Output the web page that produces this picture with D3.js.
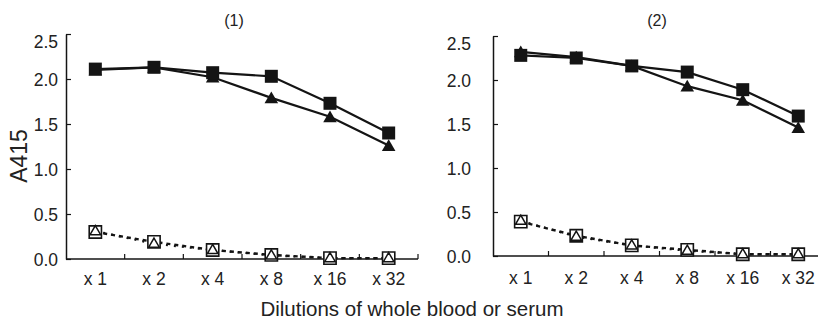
<!DOCTYPE html>
<html>
<head>
<meta charset="utf-8">
<script src="https://cdn.jsdelivr.net/npm/d3@7"></script>
<style>
  body { margin: 0; background: #fff; }
  text { font-family: "Liberation Sans", Arial, sans-serif; fill: #222; }
</style>
</head>
<body>
<script>
// dilution steps on the x axis
var dilutions = ["x 1", "x 2", "x 4", "x 8", "x 16", "x 32"];
var yTicks = [0, 0.5, 1.0, 1.5, 2.0, 2.5];

// panel (1)
var p1FilledSquare = [2.11, 2.13, 2.07, 2.03, 1.73, 1.40];
var p1FilledTriangle = [2.10, 2.13, 2.02, 1.79, 1.58, 1.26];
var p1OpenSquare = [0.30, 0.19, 0.10, 0.045, 0.01, 0.01];
var p1OpenTriangle = [0.31, 0.17, 0.10, 0.04, 0.01, 0.01];

// panel (2)
var p2FilledSquare = [2.28, 2.25, 2.16, 2.09, 1.89, 1.59];
var p2FilledTriangle = [2.32, 2.26, 2.16, 1.93, 1.77, 1.46];
var p2OpenSquare = [0.39, 0.23, 0.12, 0.07, 0.02, 0.02];
var p2OpenTriangle = [0.40, 0.22, 0.12, 0.06, 0.02, 0.02];

var W = 818, H = 322;
var svg = d3.select("body").append("svg")
    .attr("width", W)
    .attr("height", H);

var ink = "#141414";

function drawPanel(cfg) {
    var x = d3.scaleBand().domain(dilutions).range([cfg.x0, cfg.x1]).padding(0);
    var y = d3.scaleLinear().domain([0, 2.5]).range([cfg.yBottom, cfg.yTop]);
    var g = svg.append("g");

    // y axis, ticks pointing inward
    var yAxis = d3.axisLeft(y)
        .tickValues(yTicks)
        .tickFormat(d3.format(".1f"))
        .tickSize(-5)
        .tickSizeOuter(0)
        .tickPadding(cfg.labelPad);
    var ya = g.append("g")
        .attr("transform", "translate(" + cfg.x0 + ",0)")
        .call(yAxis);
    ya.select(".domain").attr("stroke", ink).attr("stroke-width", 1.5);
    ya.selectAll(".tick line").attr("stroke", ink).attr("stroke-width", 1.2);
    ya.selectAll(".tick text")
        .style("font-size", "17.5px")
        .attr("fill", "#222")
        .attr("dy", (d) => d == 2.5 ? "0.75em" : "0.35em");

    // x axis baseline + boundary ticks
    var right = Math.min(cfg.x1, W);
    g.append("line")
        .attr("x1", cfg.x0).attr("x2", right)
        .attr("y1", cfg.yBottom).attr("y2", cfg.yBottom)
        .attr("stroke", ink).attr("stroke-width", 1.5);
    g.selectAll(".xtick")
        .data(dilutions)
        .enter()
        .append("line")
        .attr("class", "xtick")
        .attr("x1", (d) => x(d) + x.bandwidth())
        .attr("x2", (d) => x(d) + x.bandwidth())
        .attr("y1", cfg.yBottom)
        .attr("y2", cfg.yBottom - 5)
        .attr("stroke", ink).attr("stroke-width", 1.2);

    var xa = g.append("g")
        .attr("transform", "translate(0," + cfg.yBottom + ")")
        .call(d3.axisBottom(x).tickSize(0).tickPadding(cfg.xPad));
    xa.select(".domain").remove();
    xa.selectAll(".tick text").style("font-size", "17.5px").attr("fill", "#222");

    // panel label
    g.append("text")
        .attr("x", cfg.titleX)
        .attr("y", 26)
        .attr("text-anchor", "middle")
        .style("font-size", "16px")
        .text(cfg.title);

    var cx = (i) => x(dilutions[i]) + x.bandwidth() / 2;
    var line = d3.line()
        .x((d, i) => cx(i))
        .y((d) => y(d));

    // open (dashed) series
    g.append("path").attr("d", line(cfg.openSquare))
        .attr("fill", "none").attr("stroke", ink).attr("stroke-width", 2.4)
        .attr("stroke-dasharray", "4,4");
    g.append("path").attr("d", line(cfg.openTriangle))
        .attr("fill", "none").attr("stroke", ink).attr("stroke-width", 2.2)
        .attr("stroke-dasharray", "2,6");

    // filled series
    g.append("path").attr("d", line(cfg.filledSquare))
        .attr("fill", "none").attr("stroke", ink).attr("stroke-width", 2.2);
    g.append("path").attr("d", line(cfg.filledTriangle))
        .attr("fill", "none").attr("stroke", ink).attr("stroke-width", 2.2);

    var sq = d3.symbol().type(d3.symbolSquare).size(169);
    var tri = d3.symbol().type(d3.symbolTriangle).size(80);
    var sqOpen = d3.symbol().type(d3.symbolSquare).size(150);
    var triOpen = d3.symbol().type(d3.symbolTriangle).size(48);

    g.selectAll(".ftri")
        .data(cfg.filledTriangle)
        .enter()
        .append("path")
        .attr("d", tri)
        .attr("transform", (d, i) => "translate(" + cx(i) + "," + (y(d) + 1.5) + ")")
        .attr("fill", ink);
    g.selectAll(".fsq")
        .data(cfg.filledSquare)
        .enter()
        .append("path")
        .attr("d", sq)
        .attr("transform", (d, i) => "translate(" + cx(i) + "," + y(d) + ")")
        .attr("fill", ink);

    g.selectAll(".osq")
        .data(cfg.openSquare)
        .enter()
        .append("path")
        .attr("d", sqOpen)
        .attr("transform", (d, i) => "translate(" + cx(i) + "," + y(d) + ")")
        .attr("fill", "#fff").attr("stroke", ink).attr("stroke-width", 1.6);
    g.selectAll(".otri")
        .data(cfg.openTriangle)
        .enter()
        .append("path")
        .attr("d", triOpen)
        .attr("transform", (d, i) => "translate(" + cx(i) + "," + (y(d) + 0.5) + ")")
        .attr("fill", "#fff").attr("stroke", ink).attr("stroke-width", 1.5);
}

drawPanel({
    x0: 66, x1: 418, yTop: 34, yBottom: 259, labelPad: 8, xPad: 14,
    title: "(1)", titleX: 234,
    filledSquare: p1FilledSquare, filledTriangle: p1FilledTriangle,
    openSquare: p1OpenSquare, openTriangle: p1OpenTriangle
});

drawPanel({
    x0: 493, x1: 826, yTop: 36, yBottom: 256, labelPad: 22, xPad: 16,
    title: "(2)", titleX: 657,
    filledSquare: p2FilledSquare, filledTriangle: p2FilledTriangle,
    openSquare: p2OpenSquare, openTriangle: p2OpenTriangle
});

// shared axis titles
svg.append("text")
    .attr("transform", "translate(27,156) rotate(-90)")
    .attr("text-anchor", "middle")
    .style("font-size", "23px")
    .text("A415");

svg.append("text")
    .attr("x", 412)
    .attr("y", 316)
    .attr("text-anchor", "middle")
    .style("font-size", "20.5px")
    .text("Dilutions of whole blood or serum");
</script>
</body>
</html>
